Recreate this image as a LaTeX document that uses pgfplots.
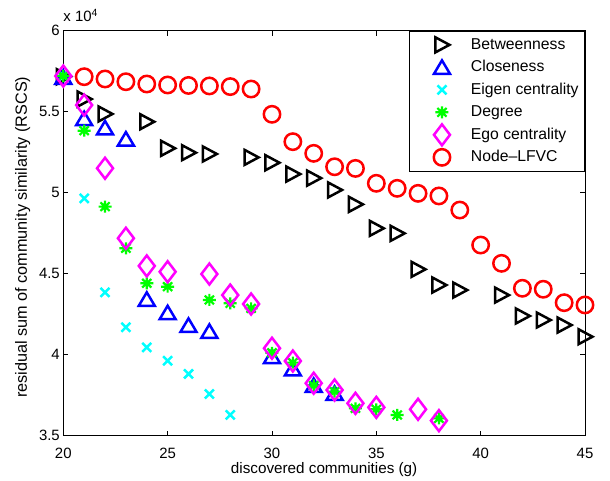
\documentclass[border=0pt]{standalone}
\usepackage{pgfplots}
\pgfplotsset{compat=1.18}
\usepackage{fontspec}
\setmainfont{Liberation Sans}

\definecolor{mblue}{rgb}{0,0,1}
\definecolor{mcyan}{rgb}{0,1,1}
\definecolor{mgreen}{rgb}{0,1,0}
\definecolor{mmag}{rgb}{1,0,1}
\definecolor{mred}{rgb}{1,0,0}

\pgfdeclareplotmark{mtriR}{%
  \pgfpathmoveto{\pgfpoint{7.5bp}{0bp}}%
  \pgfpathlineto{\pgfpoint{-6.5bp}{7.5bp}}%
  \pgfpathlineto{\pgfpoint{-6.5bp}{-7.5bp}}%
  \pgfpathclose\pgfusepathqstroke}
\pgfdeclareplotmark{mtriU}{%
  \pgfpathmoveto{\pgfpoint{0bp}{7bp}}%
  \pgfpathlineto{\pgfpoint{8bp}{-6.5bp}}%
  \pgfpathlineto{\pgfpoint{-8bp}{-6.5bp}}%
  \pgfpathclose\pgfusepathqstroke}
\pgfdeclareplotmark{mcirc}{%
  \pgfpathcircle{\pgfpointorigin}{8.2bp}\pgfusepathqstroke}
\pgfdeclareplotmark{mdiam}{%
  \pgfpathmoveto{\pgfpoint{0bp}{10.5bp}}%
  \pgfpathlineto{\pgfpoint{8bp}{0bp}}%
  \pgfpathlineto{\pgfpoint{0bp}{-10.5bp}}%
  \pgfpathlineto{\pgfpoint{-8bp}{0bp}}%
  \pgfpathclose\pgfusepathqstroke}
\pgfdeclareplotmark{mcross}{%
  \pgfpathmoveto{\pgfpoint{-4.5bp}{-4.5bp}}\pgfpathlineto{\pgfpoint{4.5bp}{4.5bp}}%
  \pgfpathmoveto{\pgfpoint{-4.5bp}{4.5bp}}\pgfpathlineto{\pgfpoint{4.5bp}{-4.5bp}}%
  \pgfusepathqstroke}
\pgfdeclareplotmark{mast}{%
  \pgfpathmoveto{\pgfpoint{-6.5bp}{0bp}}\pgfpathlineto{\pgfpoint{6.5bp}{0bp}}%
  \pgfpathmoveto{\pgfpoint{0bp}{-6bp}}\pgfpathlineto{\pgfpoint{0bp}{6bp}}%
  \pgfpathmoveto{\pgfpoint{-4.6bp}{-4.3bp}}\pgfpathlineto{\pgfpoint{4.6bp}{4.3bp}}%
  \pgfpathmoveto{\pgfpoint{-4.6bp}{4.3bp}}\pgfpathlineto{\pgfpoint{4.6bp}{-4.3bp}}%
  \pgfusepathqstroke}

\makeatletter
\pgfplotsset{legend image code/.code={%
  \pgfpathrectangle{\pgfpoint{-7bp}{-3bp}}{\pgfpoint{47bp}{6bp}}%
  \pgfusepath{use as bounding box}%
  \begin{scope}[#1, overlay]
    \pgftransformshift{\pgfpoint{20bp}{0bp}}%
    \pgfuseplotmark{\tikz@plot@mark}%
  \end{scope}}}
\makeatother

\begin{document}
\begin{tikzpicture}
\begin{axis}[
  name=ax,
  scale only axis,
  width=521.7bp, height=405bp,
  xmin=20, xmax=45, ymin=35000, ymax=60000,
  xtick={20,25,...,45},
  ytick={35000,40000,45000,50000,55000,60000},
  yticklabels={3.5,4,4.5,5,5.5,6},
  scaled y ticks=false,
  /pgf/number format/assume math mode=true,
  tick align=inside,
  major tick length=5bp,
  axis line style={line width=0.8bp},
  every tick/.style={black, line width=0.8bp},
  tick label style={font=\fontsize{15}{18}\selectfont},
  xticklabel style={yshift=-9bp},
  xlabel style={font=\fontsize{15.3}{18}\selectfont, yshift=3bp},
  xlabel={discovered communities (g)},
  ylabel={residual sum of community similarity (RSCS)},
  every axis y label/.style={at={(rel axis cs:0,0.49)}, xshift=-36.5bp, rotate=90, anchor=base,
    font=\fontsize{16.3}{18}\selectfont},
  clip=false,
  legend cell align=left,
  legend style={at={(1,1)}, anchor=north east, draw=black, line width=0.8bp,
    fill=white, font=\fontsize{15.8}{18}\selectfont,
    inner xsep=6bp, inner ysep=5.75bp, row sep=6.5bp, column sep=9bp,
    nodes={inner xsep=0pt, inner ysep=0pt, text height=12.5bp, text depth=3.5bp}},
]
\addplot[only marks, mark=mtriR, black, line width=2.5bp] coordinates {
(20,57160) (21,55780) (22,54860) (24,54380) (25,52740) (26,52470) (27,52390)
(29,52180) (30,51850) (31,51150) (32,50900) (33,50170) (34,49280) (35,47800)
(36,47490) (37,45270) (38,44300) (39,43990) (41,43680) (42,42390) (43,42140)
(44,41830) (45,41110)};
\addlegendentry{Betweenness}
\addplot[only marks, mark=mtriU, mblue, line width=2.5bp] coordinates {
(20,57120) (21,54570) (22,54000) (23,53310) (24,43420) (25,42590) (26,41810)
(27,41440) (30,39880) (31,39120) (32,38100) (33,37620)};
\addlegendentry{Closeness}
\addplot[only marks, mark=mcross, mcyan, line width=2.5bp] coordinates {
(20,57200) (21,49650) (22,43850) (23,41690) (24,40450) (25,39630) (26,38810)
(27,37570) (28,36280)};
\addlegendentry{Eigen centrality}
\addplot[only marks, mark=mast, mgreen, line width=2.2bp] coordinates {
(20,57200) (21,53830) (22,49140) (23,46570) (24,44410) (25,44200) (27,43380)
(28,43170) (29,42860) (30,40120) (31,39510) (32,38100) (33,37720) (34,36690)
(35,36630) (36,36280) (38,36070)};
\addlegendentry{Degree}
\addplot[only marks, mark=mdiam, mmag, line width=2.5bp] coordinates {
(20,57200) (21,55410) (22,51510) (23,47190) (24,45480) (25,45120) (27,44980)
(28,43680) (29,43130) (30,40400) (31,39610) (32,38240) (33,37820) (34,37000)
(35,36750) (37,36630) (38,35930)};
\addlegendentry{Ego centrality}
\addplot[only marks, mark=mcirc, mred, line width=2.5bp] coordinates {
(21,57160) (22,57020) (23,56850) (24,56710) (25,56650) (26,56620) (27,56590)
(28,56550) (29,56400) (30,54840) (31,53150) (32,52430) (33,51600) (34,51500)
(35,50580) (36,50270) (37,49960) (38,49800) (39,48930) (40,46770) (41,45640)
(42,44100) (43,44040) (44,43210) (45,43070)};
\addlegendentry{Node\textendash LFVC}
\end{axis}
\node[anchor=base west, inner sep=0pt, font=\fontsize{15}{18}\selectfont]
  at ([yshift=9bp]ax.north west) {x 10\textsuperscript{4}};
\pgfresetboundingbox
\path ([xshift=-63.3bp,yshift=-45.3bp]ax.south west) rectangle ([xshift=25bp,yshift=30.7bp]ax.north east);
\end{tikzpicture}
\end{document}
